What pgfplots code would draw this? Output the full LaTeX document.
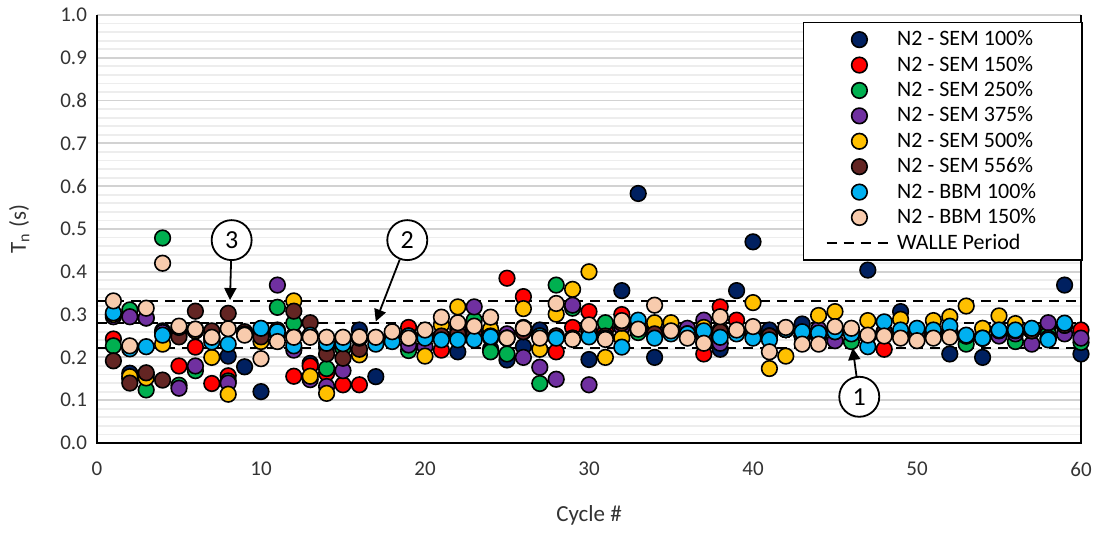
\documentclass[border=0pt]{standalone}
\usepackage{fontspec}
\setmainfont{Carlito}
\usepackage{pgfplots}
\pgfplotsset{compat=1.18}
\usetikzlibrary{arrows.meta}

\definecolor{semA}{HTML}{002060}
\definecolor{semB}{HTML}{FF0000}
\definecolor{semC}{HTML}{00B050}
\definecolor{semD}{HTML}{7030A0}
\definecolor{semE}{HTML}{FFC000}
\definecolor{semF}{HTML}{632523}
\definecolor{bbmA}{HTML}{00B0F0}
\definecolor{bbmB}{HTML}{F8CBAD}

\pgfplotsset{
  dot/.style={only marks, mark=*, mark size=3.9pt, draw=black, fill=#1,
    mark options={draw=black, fill=#1, line width=0.8pt}},
  walle/.style={black, line width=1.1pt, dash pattern=on 5pt off 3.5pt},
}

\begin{document}
\begin{tikzpicture}
\begin{axis}[
  scale only axis,
  width=492pt, height=214pt,
  at={(0,0)}, anchor=south west,
  clip=false,
  xmin=0, xmax=60, ymin=0, ymax=1,
  xtick={0,10,20,30,40,50,60},
  ytick={0,0.1,0.2,0.3,0.4,0.5,0.6,0.7,0.8,0.9,1.0},
  minor y tick num=4,
  ymajorgrids, yminorgrids,
  major grid style={gray!35, line width=0.9pt},
  minor grid style={gray!14, line width=0.9pt},
  major tick length=0pt, minor tick length=0pt,
  axis line style={draw=none},
  /pgf/number format/assume math mode=true,
  tick label style={font=\fontsize{10.5}{12}\selectfont, text=black!80},
  xticklabel style={yshift=-6pt},
  yticklabel style={xshift=-1.5pt, /pgf/number format/.cd, fixed, fixed zerofill, precision=1},
  xlabel={Cycle \#},
  ylabel={T\textsubscript{n} (s)},
  label style={font=\fontsize{11.5}{13}\selectfont, text=black!80},
  xlabel style={at={(axis description cs:0.5,-0.168)}, anchor=center},
  ylabel style={at={(axis description cs:-0.079,0.5)}, anchor=center},
  legend style={at={(1.002,0.984)}, anchor=north east, draw=black, line width=0.8pt,
    fill=white, font=\fontsize{11}{12}\selectfont, row sep=-0.3pt,
    inner xsep=11pt, inner ysep=2pt},
  legend cell align=left,
  legend image code/.code={\draw[mark repeat=2,mark phase=2,#1]
    plot coordinates {(0cm,0cm) (0.575cm,0cm) (1.15cm,0cm)};},
]

% WALLE period lines, behind the markers
\addplot[walle, forget plot] coordinates {(0,0.332) (60,0.332)};
\addplot[walle, forget plot] coordinates {(0,0.280) (60,0.280)};
\addplot[walle, forget plot] coordinates {(0,0.222) (60,0.222)};

% N2 - SEM 100%
\addplot[dot=semA] coordinates {
(1,0.300) (2,0.163) (3,0.292) (4,0.262) (5,0.262) (6,0.262) (7,0.245) (8,0.203) (9,0.178) (10,0.120)
(11,0.255) (12,0.250) (13,0.186) (14,0.224) (15,0.245) (16,0.264) (17,0.155) (18,0.250) (19,0.250) (20,0.250)
(21,0.250) (22,0.213) (23,0.255) (24,0.220) (25,0.194) (26,0.225) (27,0.264) (28,0.250) (29,0.245) (30,0.195)
(31,0.245) (32,0.356) (33,0.583) (34,0.200) (35,0.260) (36,0.255) (37,0.235) (38,0.219) (39,0.356) (40,0.470)
(41,0.264) (42,0.265) (43,0.278) (44,0.250) (45,0.260) (46,0.260) (47,0.404) (48,0.260) (49,0.307) (50,0.255)
(51,0.255) (52,0.208) (53,0.250) (54,0.200) (55,0.262) (56,0.262) (57,0.262) (58,0.245) (59,0.369) (60,0.208)};
\addlegendentry{N2 - SEM 100\%}

% N2 - SEM 150%
\addplot[dot=semB] coordinates {
(1,0.243) (2,0.150) (3,0.160) (4,0.255) (5,0.180) (6,0.224) (7,0.139) (8,0.157) (9,0.255) (10,0.260)
(11,0.255) (12,0.156) (13,0.180) (14,0.163) (15,0.136) (16,0.136) (17,0.245) (18,0.250) (19,0.270) (20,0.250)
(21,0.217) (22,0.255) (23,0.255) (24,0.245) (25,0.385) (26,0.342) (27,0.250) (28,0.213) (29,0.270) (30,0.307)
(31,0.262) (32,0.300) (33,0.270) (34,0.260) (35,0.260) (36,0.255) (37,0.208) (38,0.318) (39,0.287) (40,0.260)
(41,0.250) (42,0.265) (43,0.250) (44,0.250) (45,0.260) (46,0.260) (47,0.250) (48,0.219) (49,0.255) (50,0.255)
(51,0.255) (52,0.260) (53,0.250) (54,0.245) (55,0.262) (56,0.262) (57,0.262) (58,0.270) (59,0.275) (60,0.264)};
\addlegendentry{N2 - SEM 150\%}

% N2 - SEM 250%
\addplot[dot=semC] coordinates {
(1,0.227) (2,0.311) (3,0.124) (4,0.479) (5,0.135) (6,0.169) (7,0.245) (8,0.145) (9,0.255) (10,0.260)
(11,0.317) (12,0.280) (13,0.250) (14,0.174) (15,0.221) (16,0.245) (17,0.245) (18,0.250) (19,0.216) (20,0.250)
(21,0.250) (22,0.255) (23,0.287) (24,0.213) (25,0.208) (26,0.260) (27,0.139) (28,0.369) (29,0.315) (30,0.260)
(31,0.281) (32,0.270) (33,0.258) (34,0.255) (35,0.260) (36,0.255) (37,0.250) (38,0.260) (39,0.260) (40,0.260)
(41,0.250) (42,0.265) (43,0.250) (44,0.250) (45,0.260) (46,0.237) (47,0.250) (48,0.260) (49,0.255) (50,0.255)
(51,0.255) (52,0.260) (53,0.231) (54,0.245) (55,0.262) (56,0.237) (57,0.262) (58,0.255) (59,0.275) (60,0.235)};
\addlegendentry{N2 - SEM 250\%}

% N2 - SEM 375%
\addplot[dot=semD] coordinates {
(1,0.295) (2,0.295) (3,0.292) (4,0.258) (5,0.128) (6,0.180) (7,0.250) (8,0.140) (9,0.255) (10,0.260)
(11,0.369) (12,0.217) (13,0.148) (14,0.132) (15,0.169) (16,0.245) (17,0.245) (18,0.250) (19,0.229) (20,0.225)
(21,0.250) (22,0.266) (23,0.318) (24,0.250) (25,0.255) (26,0.200) (27,0.177) (28,0.149) (29,0.322) (30,0.136)
(31,0.245) (32,0.270) (33,0.270) (34,0.265) (35,0.270) (36,0.268) (37,0.287) (38,0.233) (39,0.260) (40,0.257)
(41,0.250) (42,0.265) (43,0.250) (44,0.266) (45,0.239) (46,0.260) (47,0.250) (48,0.260) (49,0.255) (50,0.255)
(51,0.255) (52,0.260) (53,0.250) (54,0.245) (55,0.250) (56,0.255) (57,0.231) (58,0.281) (59,0.255) (60,0.245)};
\addlegendentry{N2 - SEM 375\%}

% N2 - SEM 500%
\addplot[dot=semE] coordinates {
(1,0.300) (2,0.155) (3,0.152) (4,0.231) (5,0.255) (6,0.262) (7,0.200) (8,0.114) (9,0.255) (10,0.237)
(11,0.255) (12,0.332) (13,0.156) (14,0.116) (15,0.245) (16,0.206) (17,0.245) (18,0.250) (19,0.250) (20,0.203)
(21,0.276) (22,0.318) (23,0.260) (24,0.266) (25,0.245) (26,0.314) (27,0.219) (28,0.301) (29,0.359) (30,0.400)
(31,0.200) (32,0.245) (33,0.270) (34,0.281) (35,0.281) (36,0.255) (37,0.270) (38,0.264) (39,0.260) (40,0.328)
(41,0.174) (42,0.203) (43,0.250) (44,0.298) (45,0.307) (46,0.260) (47,0.286) (48,0.260) (49,0.289) (50,0.255)
(51,0.286) (52,0.295) (53,0.320) (54,0.268) (55,0.297) (56,0.279) (57,0.262) (58,0.245) (59,0.275)};
\addlegendentry{N2 - SEM 500\%}

% N2 - SEM 556%
\addplot[dot=semF] coordinates {
(1,0.192) (2,0.140) (3,0.164) (4,0.147) (5,0.248) (6,0.308) (7,0.262) (8,0.303) (9,0.260) (10,0.248)
(11,0.264) (12,0.308) (13,0.281) (14,0.208) (15,0.198) (16,0.219) (17,0.245) (18,0.250) (19,0.250) (20,0.250)
(21,0.250) (22,0.255) (23,0.255) (24,0.250) (25,0.245) (26,0.260) (27,0.250) (28,0.250) (29,0.245) (30,0.260)
(31,0.250) (32,0.280) (33,0.270) (34,0.255) (35,0.260) (36,0.255) (37,0.250) (38,0.260) (39,0.260) (40,0.260)
(41,0.250) (42,0.265) (43,0.250) (44,0.250) (45,0.260) (46,0.260) (47,0.250) (48,0.260) (49,0.255) (50,0.255)
(51,0.255) (52,0.260) (53,0.250) (54,0.245) (55,0.262) (56,0.262) (57,0.262) (58,0.245) (59,0.275)};
\addlegendentry{N2 - SEM 556\%}

% N2 - BBM 100%
\addplot[dot=bbmA] coordinates {
(1,0.304) (2,0.220) (3,0.225) (4,0.252) (5,0.270) (6,0.266) (7,0.236) (8,0.231) (9,0.255) (10,0.268)
(11,0.260) (12,0.227) (13,0.252) (14,0.233) (15,0.232) (16,0.245) (17,0.231) (18,0.237) (19,0.250) (20,0.245)
(21,0.241) (22,0.241) (23,0.241) (24,0.248) (25,0.245) (26,0.270) (27,0.250) (28,0.245) (29,0.245) (30,0.248)
(31,0.245) (32,0.224) (33,0.287) (34,0.245) (35,0.255) (36,0.255) (37,0.262) (38,0.247) (39,0.255) (40,0.245)
(41,0.241) (42,0.265) (43,0.260) (44,0.257) (45,0.260) (46,0.255) (47,0.225) (48,0.283) (49,0.264) (50,0.268)
(51,0.264) (52,0.273) (53,0.252) (54,0.245) (55,0.264) (56,0.264) (57,0.268) (58,0.241) (59,0.280)};
\addlegendentry{N2 - BBM 100\%}

% N2 - BBM 150%
\addplot[dot=bbmB] coordinates {
(1,0.332) (2,0.227) (3,0.315) (4,0.420) (5,0.273) (6,0.266) (7,0.247) (8,0.267) (9,0.252) (10,0.197)
(11,0.237) (12,0.247) (13,0.247) (14,0.247) (15,0.247) (16,0.248) (17,0.247) (18,0.260) (19,0.245) (20,0.264)
(21,0.294) (22,0.281) (23,0.273) (24,0.294) (25,0.245) (26,0.268) (27,0.245) (28,0.326) (29,0.242) (30,0.276)
(31,0.242) (32,0.286) (33,0.266) (34,0.322) (35,0.262) (36,0.245) (37,0.233) (38,0.295) (39,0.264) (40,0.272)
(41,0.213) (42,0.270) (43,0.231) (44,0.231) (45,0.272) (46,0.268) (47,0.252) (48,0.250) (49,0.245) (50,0.239)
(51,0.245) (52,0.247)};
\addlegendentry{N2 - BBM 150\%\hspace*{10pt}}

\addlegendimage{walle}
\addlegendentry{WALLE Period}

% frame: left, bottom, right
\draw[black, line width=1pt] (rel axis cs:0,1) -- (rel axis cs:0,0) -- (rel axis cs:1,0) -- (rel axis cs:1,1);

% numbered callouts
\tikzset{callout/.style={circle, draw=black, line width=0.9pt, fill=white,
  minimum size=20pt, inner sep=0pt, font=\fontsize{13}{15}\selectfont}}
\node[callout] (c3) at (axis cs:8.21,0.474) {3};
\node[callout] (c2) at (axis cs:18.92,0.474) {2};
\node[callout] (c1) at (axis cs:46.48,0.108) {1};
\draw[line width=0.9pt, -{Triangle[length=6pt,width=6pt]}] (c3) -- (axis cs:8.11,0.334);
\draw[line width=0.9pt, -{Triangle[length=6pt,width=6pt]}] (c2) -- (axis cs:17.0,0.284);
\draw[line width=0.9pt, -{Triangle[length=6pt,width=6pt]}] (c1) -- (axis cs:46.08,0.222);
\end{axis}
\pgfresetboundingbox
\path (-48.5pt,-45.5pt) rectangle (502.5pt,221.5pt);
\end{tikzpicture}
\end{document}
